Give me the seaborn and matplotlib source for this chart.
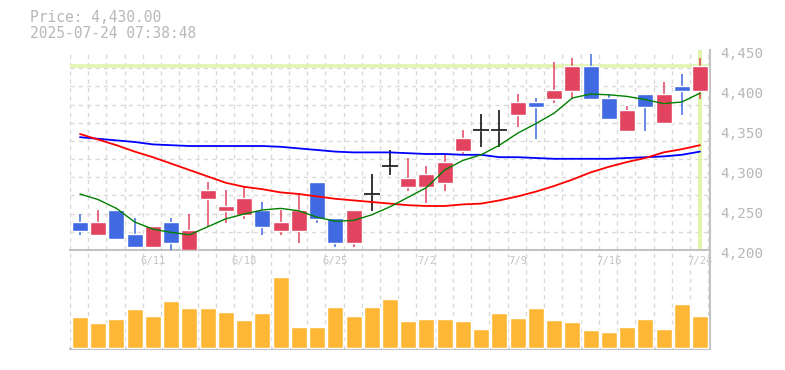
import numpy as np
import matplotlib
matplotlib.use("Agg")
import matplotlib.pyplot as plt
import matplotlib.transforms as mtransforms
from matplotlib.ticker import StrMethodFormatter
import seaborn as sns

# données
dates = ["6/5", "6/6", "6/9", "6/10", "6/11", "6/12", "6/13", "6/16", "6/17", "6/18",
         "6/19", "6/20", "6/23", "6/24", "6/25", "6/26", "6/27", "6/30", "7/1", "7/2",
         "7/3", "7/4", "7/7", "7/8", "7/9", "7/10", "7/11", "7/14", "7/15", "7/16",
         "7/17", "7/18", "7/22", "7/23", "7/24"]
opens = [4235, 4219, 4250, 4220, 4204, 4235, 4200, 4264, 4249, 4244,
         4250, 4224, 4224, 4285, 4240, 4209, 4270, 4305, 4279, 4279,
         4284, 4324, 4350, 4350, 4369, 4385, 4389, 4399, 4430, 4390,
         4349, 4395, 4359, 4405, 4399]
highs = [4245, 4250, 4250, 4240, 4230, 4240, 4245, 4285, 4275, 4280,
         4260, 4250, 4270, 4285, 4240, 4250, 4295, 4325, 4315, 4305,
         4320, 4350, 4370, 4375, 4395, 4390, 4435, 4440, 4445, 4395,
         4380, 4395, 4410, 4420, 4440]
lows = [4219, 4219, 4214, 4204, 4204, 4199, 4195, 4229, 4234, 4239,
        4219, 4219, 4209, 4234, 4204, 4204, 4249, 4294, 4274, 4259,
        4274, 4319, 4329, 4329, 4354, 4339, 4384, 4389, 4389, 4364,
        4349, 4349, 4359, 4369, 4389]
closes = [4224, 4235, 4214, 4204, 4230, 4209, 4225, 4275, 4255, 4265,
          4229, 4235, 4250, 4239, 4209, 4250, 4270, 4305, 4290, 4295,
          4310, 4340, 4350, 4350, 4385, 4379, 4400, 4430, 4389, 4364,
          4375, 4379, 4395, 4399, 4430]
ma_short = [4270, 4263, 4252, 4235, 4226, 4222, 4219, 4229, 4239, 4245,
            4250, 4252, 4249, 4241, 4236, 4237, 4244, 4254, 4266, 4278,
            4300, 4312, 4319, 4331, 4346, 4358, 4371, 4390, 4395, 4394,
            4392, 4388, 4383, 4385, 4396]
ma_mid = [4345, 4338, 4331, 4323, 4316, 4308, 4300, 4292, 4284, 4279,
          4276, 4272, 4270, 4267, 4264, 4262, 4260, 4258, 4256, 4255,
          4255, 4257, 4258, 4262, 4267, 4273, 4280, 4288, 4297, 4304,
          4310, 4315, 4322, 4326, 4331]
ma_long = [4341, 4339, 4337, 4335, 4332, 4331, 4330, 4330, 4330, 4330,
           4330, 4329, 4327, 4325, 4323, 4322, 4322, 4322, 4321, 4320,
           4320, 4319, 4319, 4316, 4316, 4315, 4314, 4314, 4314, 4314,
           4315, 4316, 4317, 4319, 4323]
volume = [310, 250, 290, 390, 320, 470, 400, 400, 360, 280,
          350, 710, 210, 210, 410, 320, 410, 490, 270, 290,
          290, 270, 190, 350, 300, 400, 280, 260, 180, 160,
          210, 290, 190, 440, 320]
price_now = 4430
price_ticks = [4200, 4250, 4300, 4350, 4400, 4450]
label_every = 5

sns.set_theme(style="white")
plt.rcParams['font.family'] = ['DejaVu Sans Mono', 'DejaVu Sans']

ROUGE = "#e2445f"
BLEU = "#4169e1"
ORANGE = "#fdb734"
GRIS_TXT = "#b8b8b8"
GRIS_GRILLE = "#d9d9d9"
SURLIGNE = "#e2f4ae"

idx = np.arange(len(dates))
o = np.array(opens)
c = np.array(closes)
couleurs = np.where(c > o, ROUGE, np.where(c < o, BLEU, "black"))

fig = plt.figure(figsize=(7.85, 3.7), dpi=100)
ax = fig.add_axes([70 / 785, 1 - 250 / 370, 640 / 785, 200 / 370])
axv = fig.add_axes([70 / 785, 1 - 349 / 370, 640 / 785, 98 / 370])
ax.set_zorder(3)
axv.patch.set_visible(False)

xmin, xmax = -0.548, len(dates) - 0.452
grille_x = np.arange(len(dates) + 1) - 0.548

# prix courant
ax.axhline(price_now, color=SURLIGNE, lw=2.6, zorder=1)
ax.axvline(idx[-1], color=SURLIGNE, lw=3, zorder=1)

# bougies
ax.vlines(idx, lows, highs, colors=couleurs, lw=1.1, zorder=3)
corps = c - o
ax.bar(idx, corps, bottom=o, width=0.88, color=couleurs, zorder=4)
doji = corps == 0
ax.hlines(c[doji], idx[doji] - 0.44, idx[doji] + 0.44, colors="black", lw=1.1, zorder=4)

# moyennes mobiles
sns.lineplot(x=idx, y=ma_long, ax=ax, color="#0000ff", lw=1.3, zorder=5)
sns.lineplot(x=idx, y=ma_mid, ax=ax, color="#ff0000", lw=1.3, zorder=5)
sns.lineplot(x=idx, y=ma_short, ax=ax, color="#008000", lw=1.0, zorder=5)

ax.set_xlim(xmin, xmax)
ax.set_ylim(4200, 4450)
ax.set_xticks(idx[label_every - 1::label_every])
ax.set_xticklabels(dates[label_every - 1::label_every])
ax.set_xticks(grille_x, minor=True)
ax.set_yticks(price_ticks)
ax.set_yticks(np.linspace(4200, 4450, 12), minor=True)
ax.yaxis.tick_right()
ax.yaxis.set_major_formatter(StrMethodFormatter("{x:,.0f}"))
ax.grid(False)
ax.grid(which="minor", color=GRIS_GRILLE, linestyle=(0, (3, 3)), lw=1)
ax.tick_params(which="both", length=0)
ax.tick_params(axis="y", pad=7.2, labelsize=10.3, labelcolor=GRIS_TXT)
ax.tick_params(axis="x", pad=4.5, labelsize=7.6, labelcolor="#c4c4c4")
decal = mtransforms.ScaledTranslation(0, -3 / 100, fig.dpi_scale_trans)
for lbl in ax.get_yticklabels():
    lbl.set_transform(lbl.get_transform() + decal)
ax.set_xlabel("")
ax.set_ylabel("")

# volume
sns.barplot(x=idx, y=volume, ax=axv, color=ORANGE, width=0.88, saturation=1, zorder=3)
axv.set_xlim(xmin, xmax)
axv.set_ylim(-10, 970)
axv.set_xticks([])
axv.set_xticks(grille_x, minor=True)
axv.set_yticks([])
axv.grid(False)
axv.grid(which="minor", axis="x", color=GRIS_GRILLE, linestyle=(0, (3, 3)), lw=1)
axv.tick_params(which="both", length=0, labelbottom=False)
axv.set_xlabel("")
axv.set_ylabel("")

for a in (ax, axv):
    for cote in ("top", "left"):
        a.spines[cote].set_visible(False)
    for cote in ("bottom", "right"):
        a.spines[cote].set_color("#c2c2c2")
        a.spines[cote].set_linewidth(1.5)

fig.text(30 / 785, 1 - 17 / 370, "Price: 4,430.00", ha="left", va="center",
         fontsize=10.5, color=GRIS_TXT)
fig.text(30 / 785, 1 - 33 / 370, "2025-07-24 07:38:48", ha="left", va="center",
         fontsize=10.5, color=GRIS_TXT)

fig.savefig("out.png", dpi=100, facecolor="white")
